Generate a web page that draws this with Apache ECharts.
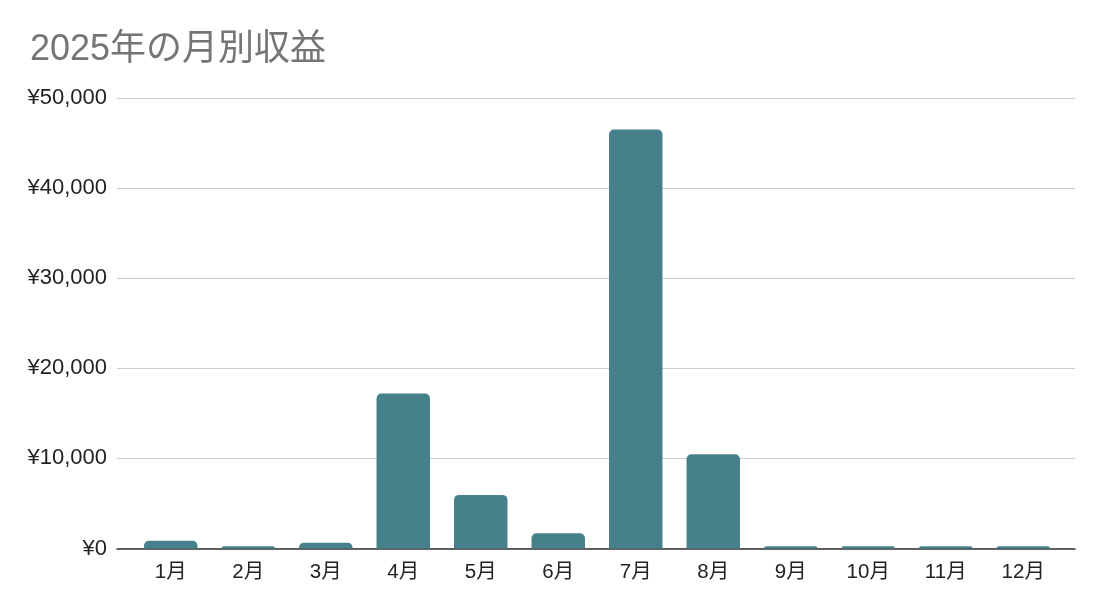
<!DOCTYPE html>
<html><head><meta charset="utf-8">
<script src="https://cdn.jsdelivr.net/npm/echarts@6/dist/echarts.min.js"></script>
<style>html,body{margin:0;padding:0;background:#fff}#c{width:1100px;height:611px}</style>
</head><body><div id="c"></div>
<script>
const title = '2025年の月別収益';
const months = ['1月','2月','3月','4月','5月','6月','7月','8月','9月','10月','11月','12月'];
const revenue = [850, 250, 650, 17200, 5950, 1700, 46500, 10450, 250, 250, 250, 250];
const yMin = 0, yMax = 50000, yStep = 10000;

const chart = echarts.init(document.getElementById('c'));
const font = '"Liberation Sans", Arial, "Noto Sans CJK JP", sans-serif';
chart.setOption({
  animation: false,
  title: {
    text: title, left: 25, top: 27,
    textStyle: { fontFamily: font, fontSize: 36, fontWeight: 'normal', color: '#757575' }
  },
  grid: [
    { left: 117, right: 25, top: 98, bottom: 62.5, containLabel: false },
    { left: 132, right: 38, top: 98, bottom: 62.5, containLabel: false }
  ],
  xAxis: [
    { type: 'category', gridIndex: 0, data: [''], axisLine: { lineStyle: { color: '#333', width: 1.5 } },
      axisTick: { show: false }, axisLabel: { show: false } },
    { type: 'category', gridIndex: 1, data: months, axisLine: { show: false }, axisTick: { show: false },
      axisLabel: { fontFamily: font, fontSize: 20.5, color: '#222', margin: 14 } }
  ],
  yAxis: [
    { type: 'value', gridIndex: 0, min: yMin, max: yMax, interval: yStep,
      axisLine: { show: false }, axisTick: { show: false },
      splitLine: { lineStyle: { color: '#cccccc', width: 1.2 } },
      axisLabel: { fontFamily: font, fontSize: 22, color: '#222', margin: 10,
        formatter: v => '¥' + v.toLocaleString('en-US') } },
    { type: 'value', gridIndex: 1, min: yMin, max: yMax, interval: yStep, show: false, splitLine: { show: false } }
  ],
  series: [{
    type: 'bar', xAxisIndex: 1, yAxisIndex: 1, data: revenue, barWidth: '69%',
    itemStyle: { color: '#46808B', borderRadius: [5, 5, 0, 0] }
  }]
});
</script></body></html>
